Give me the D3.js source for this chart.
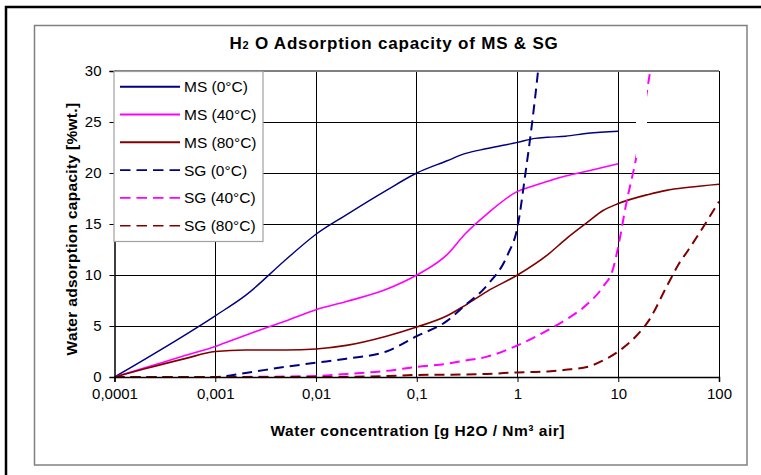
<!DOCTYPE html>
<html><head><meta charset="utf-8">
<script src="https://cdn.jsdelivr.net/npm/d3@7"></script>
<style>
html,body{margin:0;padding:0;background:#fff;}
text{font-family:"Liberation Sans",Arial,sans-serif;fill:#000;}
</style></head>
<body>
<svg id="c" width="761" height="475"></svg>
<script>
// ---- data ----
const xTicks = [0.0001, 0.001, 0.01, 0.1, 1, 10, 100];
const xTickLabels = ["0,0001", "0,001", "0,01", "0,1", "1", "10", "100"];
const yTicks = [0, 5, 10, 15, 20, 25, 30];

const ms0Conc = [0.0001, 0.001, 0.002, 0.005, 0.01, 0.02, 0.05, 0.1, 0.2, 0.3, 0.5, 1, 1.5, 2, 3, 5, 10];
const ms0Val  = [0, 6, 8, 11.5, 14, 15.9, 18.3, 20, 21.2, 21.9, 22.4, 23, 23.4, 23.5, 23.6, 23.9, 24.1];

const ms40Conc = [0.0001, 0.0002, 0.0005, 0.001, 0.002, 0.005, 0.01, 0.02, 0.05, 0.1, 0.2, 0.3, 0.5, 1, 1.5, 2, 3, 5, 10];
const ms40Val  = [0, 0.9, 2.1, 3, 4.1, 5.5, 6.6, 7.4, 8.6, 10, 12, 14, 16, 18.2, 18.8, 19.2, 19.7, 20.2, 20.9];

const ms80Conc = [0.0001, 0.0002, 0.0005, 0.001, 0.002, 0.005, 0.01, 0.02, 0.05, 0.1, 0.2, 0.3, 0.5, 1, 2, 3, 5, 7, 10, 20, 30, 50, 100];
const ms80Val  = [0, 0.8, 1.8, 2.5, 2.65, 2.65, 2.75, 3.1, 4, 4.9, 6, 7, 8.4, 10, 12, 13.5, 15.2, 16.3, 17, 17.9, 18.3, 18.6, 18.9];

const sg0Conc = [0.0001, 0.001, 0.002, 0.005, 0.01, 0.02, 0.05, 0.1, 0.2, 0.3, 0.5, 0.8, 1, 1.2, 1.4, 1.6, 2];
const sg0Val  = [0, 0, 0.4, 1.0, 1.4, 1.8, 2.5, 4, 5.5, 7, 9, 12, 14.7, 20, 25, 30, 40];

const sg40Conc = [0.0001, 0.001, 0.01, 0.02, 0.05, 0.1, 0.2, 0.3, 0.5, 1, 2, 3, 5, 7, 9, 10, 12, 15, 20, 25];
const sg40Val  = [0, 0, 0.1, 0.3, 0.6, 1.0, 1.3, 1.6, 2.0, 3.1, 4.6, 5.6, 7.2, 8.8, 10.8, 12.8, 17, 21.4, 29, 35];

const sg80Conc = [0.0001, 0.01, 0.05, 0.1, 0.3, 0.5, 1, 2, 3, 5, 7, 10, 15, 20, 30, 40, 50, 100];
const sg80Val  = [0, 0, 0.1, 0.2, 0.25, 0.3, 0.45, 0.55, 0.7, 1.0, 1.6, 2.5, 4, 5.5, 8.8, 11.1, 12.5, 17.2];

const seriesNames = ["MS (0°C)", "MS (40°C)", "MS (80°C)", "SG (0°C)", "SG (40°C)", "SG (80°C)"];
const seriesColors = ["#000080", "#FF00FF", "#800000", "#000080", "#FF00FF", "#800000"];
const seriesDashed = [false, false, false, true, true, true];
const seriesConc = [ms0Conc, ms40Conc, ms80Conc, sg0Conc, sg40Conc, sg80Conc];
const seriesVal = [ms0Val, ms40Val, ms80Val, sg0Val, sg40Val, sg80Val];

// ---- layout ----
const svg = d3.select("#c");
const L = 114.5, T = 71, R = 719, B = 377;

// outer frames
svg.append("rect").attr("x", 6).attr("y", 7).attr("width", 900).attr("height", 900)
  .attr("fill", "none").attr("stroke", "#000").attr("stroke-width", 2.5);
svg.append("rect").attr("x", 34.5).attr("y", 25.5).attr("width", 712.5).attr("height", 439.5)
  .attr("fill", "#fff").attr("stroke", "#808080").attr("stroke-width", 1.5);

const x = d3.scaleLog().domain([0.0001, 100]).range([L, R]);
const y = d3.scaleLinear().domain([0, 30]).range([B, T]);

// gridlines
const g = svg.append("g");
g.selectAll("line.vg").data(xTicks.slice(1)).join("line")
  .attr("x1", d => x(d)).attr("x2", d => x(d)).attr("y1", T).attr("y2", B)
  .attr("stroke", "#000").attr("stroke-width", 1).attr("shape-rendering", "crispEdges");
g.selectAll("line.hg").data(yTicks.slice(1, -1)).join("line")
  .attr("x1", L).attr("x2", R).attr("y1", d => y(d)).attr("y2", d => y(d))
  .attr("stroke", "#000").attr("stroke-width", 1).attr("shape-rendering", "crispEdges");
// top border
g.append("line").attr("x1", L).attr("x2", R).attr("y1", y(30)).attr("y2", y(30))
  .attr("stroke", "#808080").attr("stroke-width", 2);

// clip
svg.append("clipPath").attr("id", "clip").append("rect")
  .attr("x", L).attr("y", T).attr("width", R - L).attr("height", B - T);

const line = d3.line().x(d => x(d[0])).y(d => y(d[1])).curve(d3.curveMonotoneX);
const lg = svg.append("g").attr("clip-path", "url(#clip)");
seriesNames.forEach((n, i) => {
  const pts = seriesConc[i].map((c, j) => [c, seriesVal[i][j]]);
  lg.append("path").attr("d", line(pts)).attr("fill", "none")
    .attr("stroke", seriesColors[i])
    .attr("stroke-width", seriesDashed[i] ? 2 : (i === 0 ? 1.4 : 1.6))
    .attr("stroke-dasharray", seriesDashed[i] ? "10,6" : null);
});

// white occluding box (as in reference)
svg.append("rect").attr("x", 636).attr("y", 83).attr("width", 11).attr("height", 75).attr("fill", "#fff");

// axes
const xAxis = d3.axisBottom(x).tickValues(xTicks).tickFormat((d, i) => xTickLabels[i]).tickSize(5).tickPadding(6);
const yAxis = d3.axisLeft(y).tickValues(yTicks).tickSize(5).tickPadding(8);
const xa = svg.append("g").attr("transform", `translate(0,${B})`).call(xAxis);
const ya = svg.append("g").attr("transform", `translate(${L},0)`).call(yAxis);
[xa, ya].forEach(a => {
  a.select(".domain").attr("stroke", "#000").attr("stroke-width", 1.5);
  a.selectAll(".tick line").attr("stroke", "#000");
  a.selectAll(".tick text").attr("font-size", 15).attr("font-family", '"Liberation Sans",Arial,sans-serif');
});

// legend
const leg = svg.append("g");
leg.append("rect").attr("x", 114).attr("y", 71.5).attr("width", 149).attr("height", 170)
  .attr("fill", "#fff").attr("stroke", "#a0a0a0").attr("stroke-width", 1.2);
seriesNames.forEach((n, i) => {
  const cy = 86.7 + i * 27.8;
  leg.append("line").attr("x1", 120).attr("x2", 180).attr("y1", cy).attr("y2", cy)
    .attr("stroke", seriesColors[i]).attr("stroke-width", seriesDashed[i] ? 1.6 : 2)
    .attr("stroke-dasharray", seriesDashed[i] ? "10.5,6" : null);
  leg.append("text").attr("x", 184).attr("y", cy).attr("dy", "0.36em")
    .attr("font-size", 15.5).text(n);
});

// title
const title = svg.append("text").attr("x", 394).attr("y", 49).attr("text-anchor", "middle")
  .attr("font-size", 17).attr("font-weight", "bold").attr("letter-spacing", 0.8);
title.append("tspan").text("H");
title.append("tspan").attr("font-size", 11).text("2");
title.append("tspan").text(" O Adsorption  capacity  of MS & SG");

// axis titles
svg.append("text").attr("x", (L + R) / 2 + 1).attr("y", 436).attr("text-anchor", "middle")
  .attr("font-size", 15.5).attr("font-weight", "bold").attr("letter-spacing", 0.5)
  .text("Water concentration [g H2O / Nm³ air]");
svg.append("text").attr("transform", `translate(77,${(T + B) / 2 + 5}) rotate(-90)`).attr("text-anchor", "middle")
  .attr("font-size", 15.5).attr("font-weight", "bold").attr("letter-spacing", 0.3)
  .text("Water adsorption capacity [%wt.]");
</script>
</body></html>
